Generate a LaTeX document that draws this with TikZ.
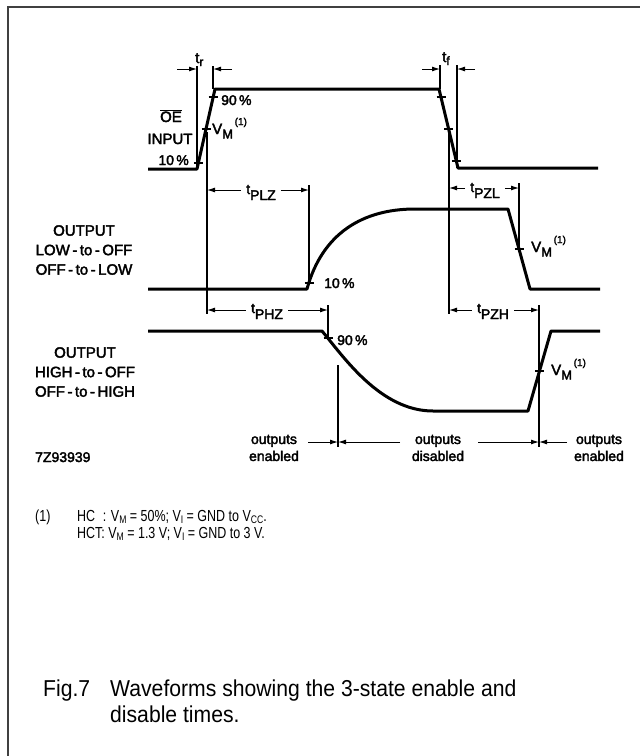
\documentclass[tikz,border=0pt]{standalone}
\usepackage{fontspec}
\setmainfont{Liberation Sans}
\newfontfamily\labfont[FakeBold=2.5]{Liberation Sans}
\newfontfamily\capfont[FakeStretch=0.92]{Liberation Sans}
\newfontfamily\notefont[FakeStretch=0.78]{Liberation Sans}
\usetikzlibrary{arrows.meta}
\newcommand\vmlab{{\fontsize{15}{15}\selectfont V}\raisebox{-4.5pt}{\fontsize{13}{13}\selectfont M}\raisebox{9pt}{\fontsize{10}{10}\selectfont\,(1)}}
\newcommand\tlab[1]{\raisebox{6pt}{\fontsize{14}{14}\selectfont t}{\fontsize{14}{14}\selectfont #1}}
\newcommand\tsml[1]{{\fontsize{15}{15}\selectfont t}\raisebox{-3pt}{\fontsize{12}{12}\selectfont #1}}
\newcommand\nsub[1]{\raisebox{-2.5pt}{\fontsize{11}{11}\selectfont #1}}
\begin{document}
\begin{tikzpicture}[x=1pt,y=-1pt,
  wave/.style={line width=3pt,line join=round},
  refl/.style={line width=1.1pt},
  tickl/.style={line width=1.5pt},
  dim/.style={line width=1pt,-{Latex[length=8pt,width=5pt]}},
  lab/.style={font=\labfont\fontsize{14}{16}\selectfont,inner sep=0pt},
  dimlab/.style={font=\labfont\fontsize{14}{16}\selectfont,inner xsep=5pt,inner ysep=0pt},
  rowlab/.style={font=\labfont\fontsize{15}{19.5}\selectfont,align=center,inner sep=0pt},
  outlab/.style={font=\labfont\fontsize{14}{17}\selectfont,align=center,inner sep=0pt},
  notelab/.style={font=\notefont\fontsize{16}{17}\selectfont,inner sep=0pt,anchor=base west},
  caplab/.style={font=\capfont\fontsize{23}{26}\selectfont,inner sep=0pt,anchor=base west}]
\useasboundingbox (0,0) rectangle (640,756);
\fill[white] (0,0) rectangle (640,756);
% frame
\coordinate (fbl) at (8,756); \coordinate (ftl) at (8,7); \coordinate (ftr) at (640,7);
\draw[line width=2pt,black!75] (fbl) -- (ftl) -- (ftr);

% ---------- waveforms ----------
\coordinate (oe0) at (148,169); \coordinate (oe1) at (197,169);
\coordinate (oe2) at (215,89);  \coordinate (oe3) at (439,89);
\coordinate (oe4) at (458,168); \coordinate (oe5) at (598,168);
\draw[wave] (oe0) -- (oe1) -- (oe2) -- (oe3) -- (oe4) -- (oe5);

\coordinate (lo0) at (148,289); \coordinate (lo1) at (307,289);
\coordinate (lo2) at (415,209); \coordinate (lo3) at (508,209);
\coordinate (lo4) at (530,289); \coordinate (lo5) at (600,289);
\draw[wave] (lo0) -- (lo1) .. controls (322,234) and (362,209) .. (lo2) -- (lo3) -- (lo4) -- (lo5);

\coordinate (hi0) at (148,331); \coordinate (hi1) at (322,331);
\coordinate (hi2) at (433,411); \coordinate (hi3) at (528,411);
\coordinate (hi4) at (551,331); \coordinate (hi5) at (600,331);
\draw[wave] (hi0) -- (hi1) .. controls (343,356) and (380,411) .. (hi2) -- (hi3) -- (hi4) -- (hi5);

% ---------- ticks ----------
\coordinate (tk1) at (213.2,97);  \coordinate (tk2) at (206,129);  \coordinate (tk3) at (198.4,163);
\coordinate (tk4) at (441,97);    \coordinate (tk5) at (448.6,129); \coordinate (tk6) at (456.3,161);
\coordinate (tk7) at (309,283);   \coordinate (tk8) at (519,249);
\coordinate (tk9) at (328,338);   \coordinate (tk10) at (539.5,371);
\foreach \p in {tk1,tk2,tk3,tk4,tk5,tk6,tk7,tk8,tk9,tk10}
  \draw[tickl] (\p) ++(-4.5,0) -- ++(9,0);

% ---------- reference lines ----------
\coordinate (v1a) at (197,66);
\coordinate (v2a) at (213,66);  \coordinate (v2b) at (213,89);
\coordinate (v3a) at (207,132); \coordinate (v3b) at (207,314);
\coordinate (v4a) at (440,65);  \coordinate (v4b) at (440,89);
\coordinate (v5a) at (457,65);  \coordinate (v5b) at (457,168);
\coordinate (v6a) at (449,130); \coordinate (v6b) at (449,314);
\coordinate (v7a) at (309,185);
\coordinate (v8a) at (519,183);
\coordinate (v9a) at (328,305);
\coordinate (v10a) at (539,305); \coordinate (v10b) at (539,447);
\coordinate (v11a) at (338,365); \coordinate (v11b) at (338,447);
\draw[refl] (v1a) -- (oe1);
\draw[refl] (v2a) -- (v2b);
\draw[refl] (v3a) -- (v3b);
\draw[refl] (v4a) -- (v4b);
\draw[refl] (v5a) -- (v5b);
\draw[refl] (v6a) -- (v6b);
\draw[refl] (v7a) -- (tk7);
\draw[refl] (v8a) -- (tk8);
\draw[refl] (v9a) -- (tk9);
\draw[refl] (v10a) -- (v10b);
\draw[refl] (v11a) -- (v11b);

% ---------- rise / fall time arrows ----------
\coordinate (tra) at (177,69); \coordinate (trc) at (232,69);
\draw[dim] (tra) -- (tra -| v1a);
\draw[dim] (trc) -- (trc -| v2a);
\node[lab,anchor=base west] (trl) at (195,63) {\tsml{r}};
\coordinate (tfa) at (422,69); \coordinate (tfc) at (475,69);
\draw[dim] (tfa) -- (tfa -| v4a);
\draw[dim] (tfc) -- (tfc -| v5a);
\node[lab,anchor=base west] (tfl) at (442,62) {\tsml{f}};

% ---------- delay arrows ----------
\node[dimlab,anchor=base] (plz) at (261,200) {\tlab{PLZ}};
\coordinate (plzA) at (261,190);
\draw[dim] (plz.west |- plzA) -- (plzA -| v3a);
\draw[dim] (plz.east |- plzA) -- (plzA -| v7a);

\node[dimlab,anchor=base] (phz) at (267,319) {\tlab{PHZ}};
\coordinate (phzA) at (267,310);
\draw[dim] (phz.west |- phzA) -- (phzA -| v3a);
\draw[dim] (phz.east |- phzA) -- (phzA -| v9a);

\node[dimlab,anchor=base] (pzl) at (485,198) {\tlab{PZL}};
\coordinate (pzlA) at (485,188);
\draw[dim] (pzl.west |- pzlA) -- (pzlA -| v6a);
\draw[dim] (pzl.east |- pzlA) -- (pzlA -| v8a);

\node[dimlab,anchor=base] (pzh) at (493,319) {\tlab{PZH}};
\coordinate (pzhA) at (493,310);
\draw[dim] (pzh.west |- pzhA) -- (pzhA -| v6a);
\draw[dim] (pzh.east |- pzhA) -- (pzhA -| v10a);

% ---------- level labels ----------
\node[lab,anchor=base east] (l10a) at (189,165) {10\,\%};
\node[lab,anchor=base west] (l90a) at (221,105) {90\,\%};
\node[lab,anchor=base west] (vma) at (212,134) {\vmlab};
\node[lab,anchor=base west] (l10b) at (324,288) {10\,\%};
\node[lab,anchor=base west] (vmb) at (531,252) {\vmlab};
\node[lab,anchor=base west] (l90c) at (337,345) {90\,\%};
\node[lab,anchor=base west] (vmc) at (551,375) {\vmlab};

% ---------- row labels ----------
\node[rowlab,anchor=base] (oel) at (171,122) {$\overline{\hbox{OE}}$};
\node[rowlab,anchor=base] (inpl) at (170,144) {INPUT};
\node[rowlab,anchor=north] (lowl) at (84,225) {OUTPUT\\LOW\,-\,to\,-\,OFF\\OFF\,-\,to\,-\,LOW};
\node[rowlab,anchor=north] (highl) at (85,347) {OUTPUT\\HIGH\,-\,to\,-\,OFF\\OFF\,-\,to\,-\,HIGH};
\node[lab,anchor=base west] (code) at (35,462) {7Z93939};

% ---------- outputs enabled / disabled ----------
\node[outlab] (en1) at (274,448) {outputs\\enabled};
\node[outlab] (dis) at (438,448) {outputs\\disabled};
\node[outlab] (en2) at (599,448) {outputs\\enabled};
\coordinate (a1) at (308,442); \coordinate (a2) at (400,442);
\coordinate (a3) at (478,442); \coordinate (a4) at (567,442);
\draw[dim] (a1) -- (a1 -| v11a);
\draw[dim] (a2) -- (a2 -| v11a);
\draw[dim] (a3) -- (a3 -| v10a);
\draw[dim] (a4) -- (a4 -| v10a);

% ---------- note ----------
\node[notelab] (n1num) at (35,521) {(1)};
\node[notelab] (n1) at (77,521) {HC\phantom{T}: V\nsub{M} = 50\%; V\nsub{I} = GND to V\nsub{CC}.};
\node[notelab] (n2) at (77,538) {HCT: V\nsub{M} = 1.3 V; V\nsub{I} = GND to 3 V.};

% ---------- caption ----------
\node[caplab] (fig) at (43,696) {Fig.7};
\node[caplab] (cap1) at (110,696) {Waveforms showing the 3-state enable and};
\node[caplab] (cap2) at (110,722) {disable times.};
\end{tikzpicture}
\end{document}
